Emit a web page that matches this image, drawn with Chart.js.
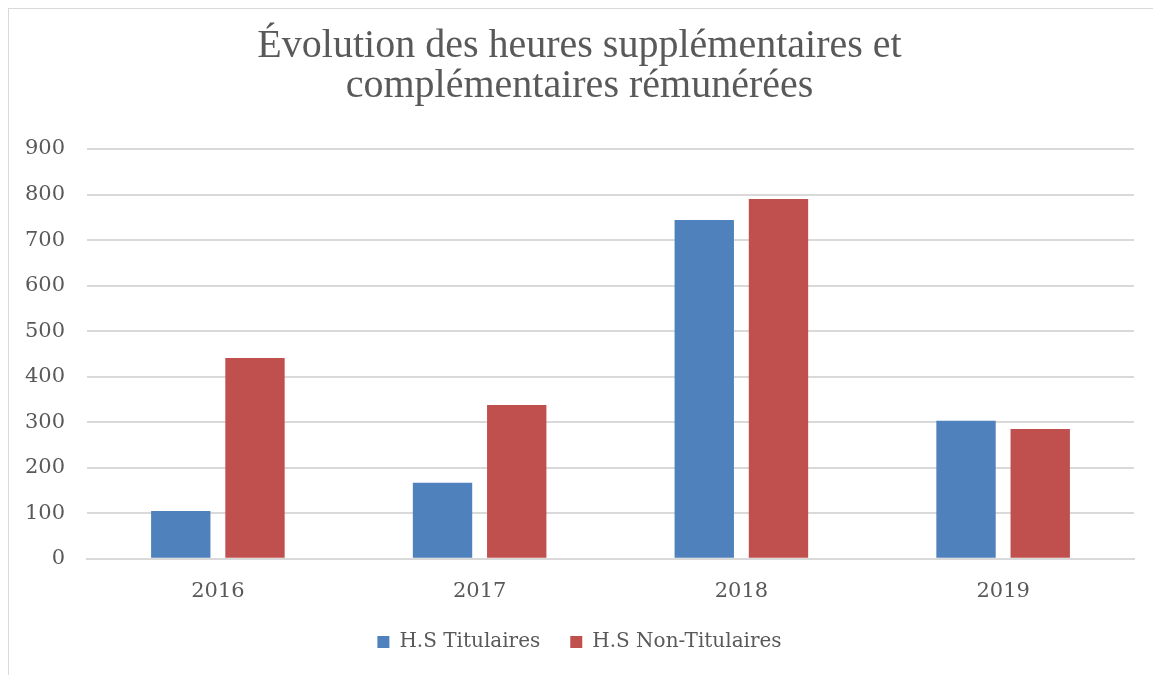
<!DOCTYPE html>
<html>
<head>
<meta charset="utf-8">
<script src="https://cdn.jsdelivr.net/npm/chart.js@4"></script>
<style>
  body { margin: 0; background: #fff; }
  #wrap {
    position: absolute; left: 8px; top: 8px; width: 1145px; height: 667px;
    border-left: 1px solid #d9d9d9; border-top: 1px solid #d9d9d9;
  }
</style>
</head>
<body>
<div id="wrap"><canvas id="barChart"></canvas></div>
<script>
// data
const years = ['2016', '2017', '2018', '2019'];
const titulaires = [105, 167, 744, 303];
const nonTitulaires = [441, 338, 790, 285];
const titleLines = ['Évolution des heures supplémentaires et', 'complémentaires rémunérées'];

const data = {
  labels: years,
  datasets: [
    {
      label: 'H.S Titulaires',
      data: titulaires,
      backgroundColor: '#4f81bd',
    },
    {
      label: 'H.S Non-Titulaires',
      data: nonTitulaires,
      backgroundColor: '#c0504d',
    },
  ],
};

// legend keeps its wide gap between items but takes less room above
const legendShift = 14;
const tightLegend = {
  id: 'tightLegend',
  beforeInit(chart) {
    const lg = chart.legend;
    const fit = lg.fit;
    lg.fit = function () {
      fit.call(this);
      this.height -= legendShift;
    };
    const draw = lg.draw;
    lg.draw = function () {
      this.top -= legendShift;
      draw.call(this);
      this.top += legendShift;
    };
  },
};

const config = {
  type: 'bar',
  data: data,
  plugins: [tightLegend],
  options: {
    responsive: true,
    maintainAspectRatio: false,
    animation: false,
    categoryPercentage: 0.567,
    barPercentage: 0.8,
    layout: { padding: { left: 16, right: 20, top: 17, bottom: 14 } },
    plugins: {
      title: {
        display: true,
        text: titleLines,
        color: '#595959',
        font: { family: 'Liberation Serif', size: 40, weight: 'normal', lineHeight: 1.0 },
        padding: { top: 0, bottom: 43 },
      },
      legend: {
        position: 'bottom',
        labels: {
          color: '#595959',
          font: { family: 'DejaVu Serif', size: 20 },
          boxWidth: 12,
          boxHeight: 12,
          padding: 30,
        },
      },
      tooltip: { enabled: false },
    },
    scales: {
      x: {
        grid: { display: false },
        border: { color: '#d9d9d9', width: 2 },
        ticks: { color: '#595959', font: { family: 'DejaVu Serif', size: 21 }, padding: 12 },
      },
      y: {
        min: 0,
        max: 900,
        afterFit(scale) { scale.width = 62; },
        ticks: { stepSize: 100, color: '#595959', font: { family: 'DejaVu Serif', size: 21 }, padding: 22 },
        grid: { color: '#d9d9d9', lineWidth: 2, drawTicks: false },
        border: { display: false },
      },
    },
  },
};

var barChart = new Chart(document.getElementById('barChart'), config);
</script>
</body>
</html>
